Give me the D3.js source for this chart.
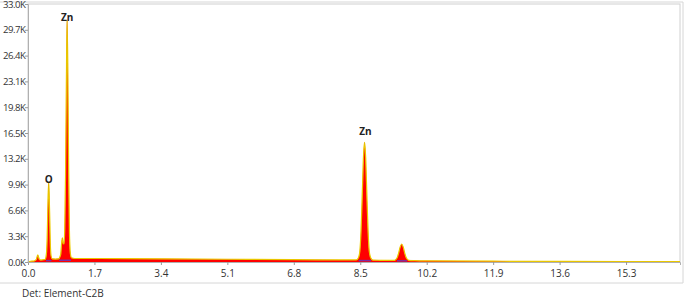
<!DOCTYPE html>
<html>
<head>
<meta charset="utf-8">
<script src="https://cdn.jsdelivr.net/npm/d3@7"></script>
<style>
  body { margin: 0; background: #fff; }
  text { font-family: "Open Sans", "Noto Sans", sans-serif; }
</style>
</head>
<body>
<div id="wrapper"></div>
<script>
// spectrum (keV, counts)
const energy = [0.00, 0.10, 0.15, 0.21, 0.25, 0.29, 0.33, 0.40, 0.44, 0.47, 0.49, 0.51, 0.53, 0.55, 0.57, 0.59, 0.62,
  0.70, 0.78, 0.82, 0.84, 0.86, 0.88, 0.90, 0.92, 0.94, 0.96, 0.98, 1.00, 1.02, 1.04, 1.06, 1.08, 1.11, 1.20,
  1.70, 2.50, 3.40, 5.10, 6.80, 8.00, 8.40, 8.45, 8.49, 8.52, 8.55, 8.58, 8.61, 8.64, 8.67, 8.70, 8.73, 8.77, 8.82,
  9.00, 9.30, 9.38, 9.44, 9.48, 9.52, 9.56, 9.60, 9.64, 9.68, 9.74, 9.90, 10.2, 11.9, 13.6, 15.3, 16.68]
const counts = [0, 100, 120, 300, 900, 350, 250, 300, 350, 1000, 3000, 7500, 10200, 7000, 2500, 800, 400,
  380, 400, 700, 1100, 2400, 3100, 2400, 2300, 4200, 11000, 22000, 31000, 24000, 12000, 4000, 1300, 550, 450,
  450, 420, 400, 350, 300, 270, 260, 500, 1400, 4000, 8400, 13200, 15300, 13200, 8400, 4000, 1400, 500, 250,
  220, 200, 220, 500, 1100, 1900, 2300, 1900, 1100, 500, 220, 180, 150, 100, 70, 50, 40]

// fitted background drawn in purple under the peaks
const bkgSegments = [
  {from: 0.46, to: 0.60, level: 180},
  {from: 0.80, to: 1.10, level: 220},
  {from: 8.46, to: 8.78, level: 180},
  {from: 9.44, to: 9.70, level: 150},
]

const xTicks = [0.0, 1.7, 3.4, 5.1, 6.8, 8.5, 10.2, 11.9, 13.6, 15.3]
const yTicks = [0, 3300, 6600, 9900, 13200, 16500, 19800, 23100, 26400, 29700, 33000]

const peakLabels = [
  {name: "Zn", e: 1.00, c: 31000},
  {name: "O", e: 0.53, c: 10200},
  {name: "Zn", e: 8.63, c: 15300},
]
// vertical gap between label baseline and peak top
const labelGap = [-1, -1, 7]

const data = energy.map((e, i) => ({e, c: counts[i]}))

const dimensions = {
  width: 685,
  height: 300,
  margin: {top: 4, right: 5, bottom: 38, left: 28},
}
dimensions.boundedWidth = dimensions.width - dimensions.margin.left - dimensions.margin.right
dimensions.boundedHeight = dimensions.height - dimensions.margin.top - dimensions.margin.bottom

const svg = d3.select("#wrapper").append("svg")
  .attr("width", dimensions.width)
  .attr("height", dimensions.height)

// outer frame
svg.append("path")
  .attr("d", `M-1,2H683V283H-1`)
  .attr("fill", "none")
  .attr("stroke", "#d6d6d6")

const bounds = svg.append("g")
  .attr("transform", `translate(${dimensions.margin.left},${dimensions.margin.top})`)

const xScale = d3.scaleLinear().domain([0, 16.68]).range([0, dimensions.boundedWidth])
const yScale = d3.scaleLinear().domain([0, 33000]).range([dimensions.boundedHeight, 0])

bounds.append("rect")
  .attr("width", dimensions.boundedWidth)
  .attr("height", dimensions.boundedHeight)
  .attr("fill", "none")
  .attr("stroke", "#d0d0d0")

const area = d3.area()
  .x(d => xScale(d.e))
  .y0(yScale(0))
  .y1(d => yScale(d.c))
  .curve(d3.curveMonotoneX)

const line = d3.line()
  .x(d => xScale(d.e))
  .y(d => yScale(d.c))
  .curve(d3.curveMonotoneX)

bounds.append("path")
  .datum(data)
  .attr("d", area)
  .attr("fill", "#ff0000")

bkgSegments.forEach(s => {
  bounds.append("line")
    .attr("x1", xScale(s.from)).attr("x2", xScale(s.to))
    .attr("y1", yScale(s.level)).attr("y2", yScale(s.level))
    .attr("stroke", "#7a2fa8")
    .attr("stroke-width", 1.5)
})

bounds.append("path")
  .datum(data)
  .attr("d", line)
  .attr("fill", "none")
  .attr("stroke", "#f2dc00")
  .attr("stroke-width", 1.2)

bounds.append("path")
  .datum(data)
  .attr("d", line)
  .attr("fill", "none")
  .attr("stroke", "#c86400")
  .attr("stroke-width", 0.4)
  .attr("opacity", 0.5)

// axes
const xAxis = bounds.append("g")
  .attr("transform", `translate(0,${dimensions.boundedHeight})`)
  .call(d3.axisBottom(xScale).tickValues(xTicks).tickFormat(d => d.toFixed(1)).tickSizeOuter(0).tickSize(3))

const yAxis = bounds.append("g")
  .call(d3.axisLeft(yScale).tickValues(yTicks).tickFormat(d => (d / 1000).toFixed(1) + "K").tickSizeOuter(0).tickSize(3))

;[xAxis, yAxis].forEach(a => {
  a.select(".domain").attr("stroke", "#b0b0b0")
  a.selectAll(".tick line").attr("stroke", "#999")
  a.selectAll(".tick text")
    .attr("fill", "#333")
    .style("font-size", "10px")
    .style("font-family", "'Open Sans', sans-serif")
})
xAxis.selectAll(".tick text").attr("dy", "0.9em")
yAxis.selectAll(".tick text")
  .attr("x", -2.5)
  .style("font-size", "9.6px")
  .style("letter-spacing", "-0.45px")

bounds.selectAll(".peak")
  .data(peakLabels)
  .enter()
  .append("text")
  .attr("class", "peak")
  .attr("x", d => xScale(d.e))
  .attr("y", (d, i) => yScale(d.c) - labelGap[i])
  .attr("text-anchor", "middle")
  .attr("fill", "#222")
  .style("font-size", "10px")
  .style("font-weight", "bold")
  .text(d => d.name)

svg.append("text")
  .attr("x", 22)
  .attr("y", 296.5)
  .attr("fill", "#333")
  .style("font-size", "10px")
  .text("Det: Element-C2B")
</script>
</body>
</html>
